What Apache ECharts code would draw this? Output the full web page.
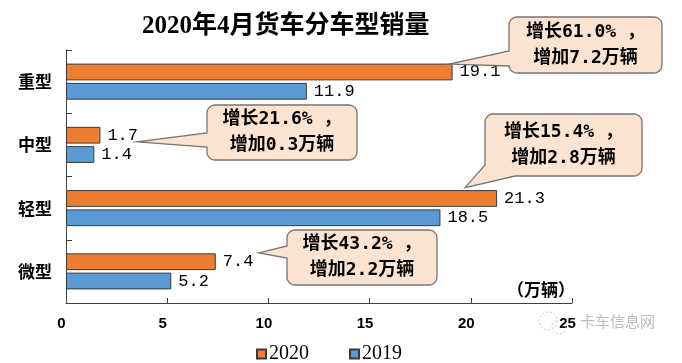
<!DOCTYPE html>
<html><head><meta charset="utf-8">
<script src="https://cdn.jsdelivr.net/npm/echarts/dist/echarts.min.js"></script>
<style>html,body{margin:0;padding:0;background:#fff}#c{width:682px;height:363px}</style>
</head><body><div id="c"></div>
<script>
// ---- data ----
const categories = ['重型', '中型', '轻型', '微型'];
const sales2020 = [19.1, 1.7, 21.3, 7.4];
const sales2019 = [11.9, 1.4, 18.5, 5.2];
const growthRate = ['61.0%', '21.6%', '15.4%', '43.2%'];
const increase = ['7.2', '0.3', '2.8', '2.2'];
const seriesNames = ['2020', '2019'];
const titleText = '2020年4月货车分车型销量';
const unitText = '（万辆）';
const axisMin = 0, axisMax = 25, axisInterval = 5;

// ---- callout layout (box + tail anchor offsets) ----
const callouts = [
  { box: [509, 17, 153, 56], tail: { type: 'left', y1: 51, y2: 66 }, off: [-3, -17.5] },
  { box: [207, 105, 150, 55], tail: { type: 'left', y1: 133, y2: 147 }, off: [37, -3] },
  { box: [485, 114, 157, 62], tail: { type: 'bl', ly: 165, bx: 515 }, off: [-32, -20.5] },
  { box: [287, 230, 150, 55], tail: { type: 'left', y1: 246, y2: 258 }, off: [43, -18.5] }
];

const chart = echarts.init(document.getElementById('c'), null, { renderer: 'canvas' });
const labelStyle = {
  show: true, position: 'right', distance: 7,
  fontFamily: '"Liberation Mono", monospace', fontSize: 17, color: '#000',
  formatter: p => Number(p.value).toFixed(1)
};
chart.setOption({
  animation: false,
  backgroundColor: '#fff',
  title: {
    text: titleText, left: 137, top: 9,
    textStyle: { fontFamily: '"Liberation Serif","Noto Sans CJK SC"', fontSize: 25, fontWeight: 'bold', color: '#000' }
  },
  legend: {
    data: seriesNames, left: 251, top: 339, icon: 'rect', itemWidth: 9, itemHeight: 9, itemGap: 40,
    textStyle: { fontFamily: '"Liberation Serif"', fontSize: 20, color: '#000', padding: [0, 0, 0, -2] }
  },
  grid: { left: 66, right: 110, top: 50, bottom: 60, containLabel: false },
  xAxis: {
    type: 'value', min: axisMin, max: axisMax, interval: axisInterval,
    axisLine: { show: true, lineStyle: { color: '#404040', width: 1 } },
    axisTick: { show: true, inside: true, length: 5, lineStyle: { color: '#404040' } },
    splitLine: { show: false },
    axisLabel: { margin: 13, fontFamily: '"Liberation Sans"', fontWeight: 'bold', fontSize: 15, color: '#000', padding: [0, 9, 0, 0] }
  },
  yAxis: {
    type: 'category', data: categories, inverse: true,
    axisLine: { show: true, lineStyle: { color: '#404040', width: 1 } },
    axisTick: { show: true, inside: true, length: 6, lineStyle: { color: '#404040' } },
    axisLabel: { margin: 14, fontFamily: '"Noto Sans CJK SC"', fontWeight: 'bold', fontSize: 17, color: '#000' }
  },
  series: [
    { name: seriesNames[0], type: 'bar', data: sales2020, barCategoryGap: '43%', barGap: '15%',
      itemStyle: { color: '#ED7D31', borderColor: '#3a3a3a', borderWidth: 1 }, label: labelStyle },
    { name: seriesNames[1], type: 'bar', data: sales2019, barCategoryGap: '43%', barGap: '15%',
      itemStyle: { color: '#5B9BD5', borderColor: '#3a3a3a', borderWidth: 1 }, label: labelStyle }
  ]
});

function arc(cx, cy, r, a0, a1, pts) {
  const n = 5;
  for (let i = 0; i <= n; i++) {
    const a = a0 + (a1 - a0) * i / n;
    pts.push([cx + r * Math.cos(a), cy + r * Math.sin(a)]);
  }
}
function calloutShape(c, tip) {
  const [x, y, w, h] = c.box, r = 8, t = c.tail, P = Math.PI, pts = [];
  pts.push([x + r, y], [x + w - r, y]);
  arc(x + w - r, y + r, r, -P / 2, 0, pts);
  pts.push([x + w, y + h - r]);
  arc(x + w - r, y + h - r, r, 0, P / 2, pts);
  if (t.type === 'bl') {
    pts.push([t.bx, y + h], tip, [x, t.ly], [x, y + r]);
  } else {
    pts.push([x + r, y + h]);
    arc(x + r, y + h - r, r, P / 2, P, pts);
    pts.push([x, t.y2], tip, [x, t.y1], [x, y + r]);
  }
  arc(x + r, y + r, r, P, 1.5 * P, pts);
  return pts;
}

const graphics = [];
callouts.forEach((c, i) => {
  const p = chart.convertToPixel({ gridIndex: 0 }, [sales2020[i], categories[i]]);
  const tip = [p[0] + c.off[0], p[1] + c.off[1]];
  graphics.push({
    type: 'polygon', z: 10,
    shape: { points: calloutShape(c, tip) },
    style: { fill: '#FBE3D2', stroke: '#7a7370', lineWidth: 1.3 }
  });
  graphics.push({
    type: 'text', z: 11,
    style: {
      text: '增长' + growthRate[i] + ' ，\n增加' + increase[i] + '万辆',
      x: c.box[0] + c.box[2] / 2, y: c.box[1] + c.box[3] / 2,
      align: 'center', verticalAlign: 'middle', lineHeight: 26,
      fontFamily: '"DejaVu Sans Mono","Noto Sans CJK SC"', fontWeight: 'bold', fontSize: 18, fill: '#000'
    }
  });
});
const axisEnd = chart.convertToPixel({ gridIndex: 0 }, [axisMax, categories[categories.length - 1]]);
graphics.push({
  type: 'text', z: 11,
  style: { text: unitText, x: axisEnd[0] + 3, y: 290, align: 'right', verticalAlign: 'middle',
    fontFamily: '"Noto Sans CJK SC"', fontWeight: 'bold', fontSize: 17, fill: '#000' }
});
// watermark
graphics.push({ type: 'circle', z: 1, shape: { cx: 548, cy: 321, r: 9 }, style: { fill: 'none', stroke: '#c8c8c8', lineWidth: 1, lineDash: [2, 2] } });
graphics.push({ type: 'circle', z: 1, shape: { cx: 559, cy: 327, r: 7 }, style: { fill: 'none', stroke: '#c8c8c8', lineWidth: 1, lineDash: [2, 2] } });
graphics.push({
  type: 'text', z: 1,
  style: { text: '卡车信息网', x: 580, y: 321, align: 'left', verticalAlign: 'middle',
    fontFamily: '"Noto Sans CJK SC"', fontSize: 15, fill: '#bcbcbc' }
});
chart.setOption({ graphic: graphics });
</script>
</body></html>
